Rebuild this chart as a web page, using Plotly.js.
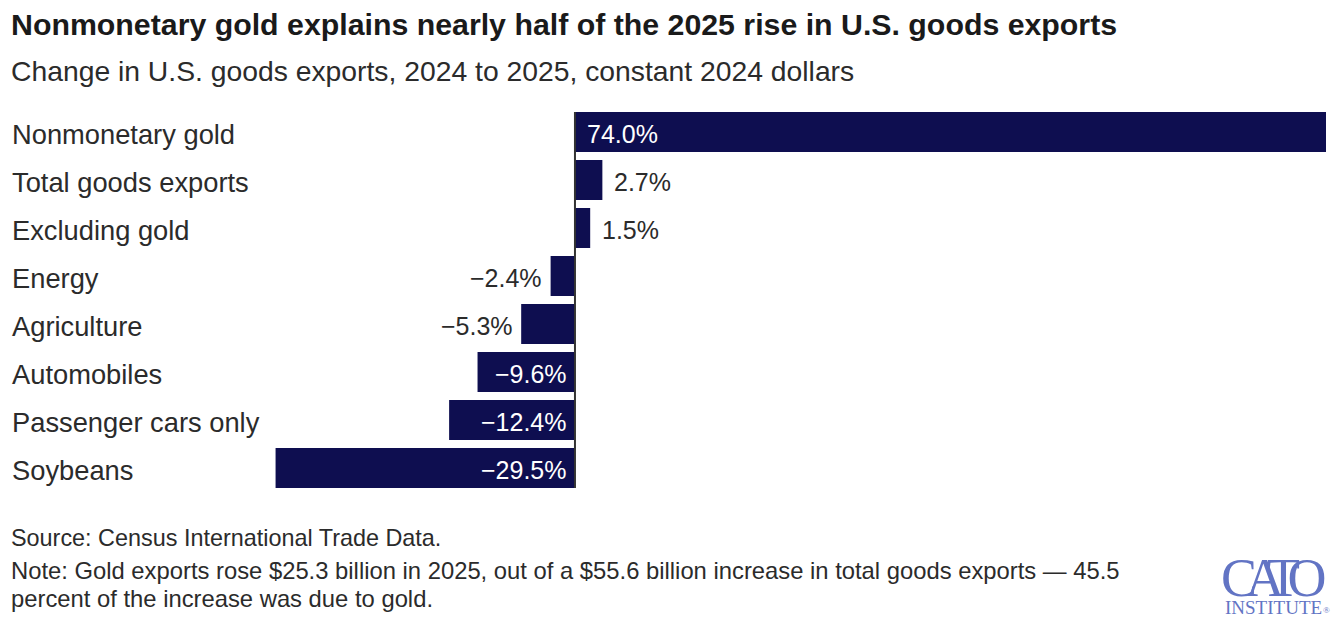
<!DOCTYPE html>
<html><head><meta charset="utf-8">
<script src="https://cdn.plot.ly/plotly-3.0.1.min.js"></script>
<style>html,body{margin:0;padding:0;background:#fff}</style></head>
<body><div id="chart" style="width:1338px;height:626px"></div>
<script>
const categories = ["Nonmonetary gold","Total goods exports","Excluding gold","Energy","Agriculture","Automobiles","Passenger cars only","Soybeans"];
const values = [74.0,2.7,1.5,-2.4,-5.3,-9.6,-12.4,-29.5];
const valueLabels = ["74.0%","2.7%","1.5%","−2.4%","−5.3%","−9.6%","−12.4%","−29.5%"];
const insideFlags = [true,false,false,false,false,true,true,true];
const titleText = "Nonmonetary gold explains nearly half of the 2025 rise in U.S. goods exports";
const subtitleText = "Change in U.S. goods exports, 2024 to 2025, constant 2024 dollars";
const sourceText = "Source: Census International Trade Data.";
const noteLine1 = "Note: Gold exports rose $25.3 billion in 2025, out of a $55.6 billion increase in total goods exports — 45.5";
const noteLine2 = "percent of the increase was due to gold.";
const xMin = -55.47, xMax = 74;

const sans = '"Liberation Sans",Arial,sans-serif';
const serif = '"Liberation Serif",serif';
const ink = '#2b2b2b', navy = '#0e0e50', logo = '#6274c4';

function pageText(text, x, y, size, family, color){
  return {text, xref:'paper', yref:'paper', x:(x-12)/1314, y:(488-y)/376,
    xanchor:'left', yanchor:'middle', showarrow:false, align:'left',
    font:{size, family, color}};
}
const anns = [];
categories.forEach((c,i)=>{
  anns.push({text:c, xref:'x', yref:'y', x:xMin, y:c, xshift:-2, yshift:-2.8, xanchor:'left', yanchor:'middle',
    showarrow:false, font:{size:27.3, family:sans, color:ink}});
  const v = values[i], inside = insideFlags[i], pos = v>=0;
  anns.push({text:valueLabels[i], xref:'x', yref:'y', x: inside?0:v, y:c, yshift:-1.5,
    xshift: pos ? (inside?10:9.5) : (inside?-6:-6.5),
    xanchor: pos?'left':'right', yanchor:'middle', showarrow:false,
    font:{size:25, family:sans, color: inside?'#ffffff':ink}});
});
anns.push(pageText('<b>'+titleText+'</b>', 9, 25, 30.3, sans, '#1a1a1a'));
anns.push(pageText(subtitleText, 9, 71, 28.3, sans, ink));
anns.push(pageText(sourceText, 9, 538, 23.4, sans, ink));
anns.push(pageText(noteLine1, 9, 570, 23.8, sans, ink));
anns.push(pageText(noteLine2, 9, 598, 23.8, sans, ink));
anns.push(pageText('<span style="letter-spacing:-11.5px">CATO</span>',1219,578,54,serif,logo));
anns.push(pageText("INSTITUTE",1223,607,19,serif,logo));
anns.push(pageText("®",1321,610,9,serif,logo));

Plotly.newPlot('chart',[{
  type:'bar', orientation:'h', y:categories, x:values,
  marker:{color:navy, line:{width:0}},
  hoverinfo:'skip'
}],{
  width:1338,height:626,
  margin:{l:12,r:12,t:112,b:138,pad:0},
  paper_bgcolor:'#fff',plot_bgcolor:'#fff',
  showlegend:false,bargap:1/6,
  xaxis:{range:[xMin,xMax],showgrid:false,showticklabels:false,ticks:'',zeroline:false},
  yaxis:{type:'category',categoryorder:'array',categoryarray:categories,autorange:false,range:[7.4167,-0.4167],showgrid:false,showticklabels:false,ticks:'',zeroline:false,showline:false},
  shapes:[{type:'line',layer:'above',xref:'x',yref:'paper',x0:0,x1:0,y0:0,y1:1,line:{color:'#333333',width:2}}],
  annotations:anns
},{displayModeBar:false,staticPlot:true});
</script></body></html>
